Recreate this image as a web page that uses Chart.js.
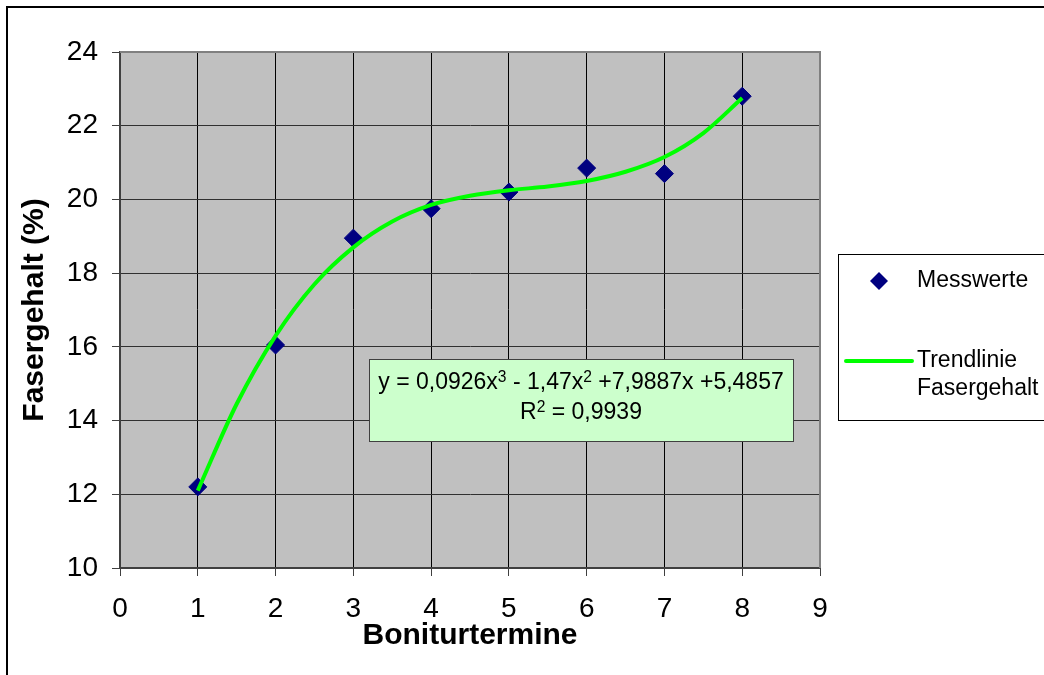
<!DOCTYPE html>
<html>
<head>
<meta charset="utf-8">
<script src="https://cdn.jsdelivr.net/npm/chart.js@4/dist/chart.umd.min.js"></script>
<style>
  html, body { margin: 0; padding: 0; background: #fff; }
  canvas { display: block; }
</style>
</head>
<body>
<canvas id="chart" width="1044" height="675"></canvas>
<script>
const termine = [1, 2, 3, 4, 5, 6, 7, 8];
const fasergehalt = [12.2, 16.05, 18.95, 19.75, 20.2, 20.85, 20.7, 22.8];

// Trendlinie, every half step
const trendX = [1, 1.5, 2, 2.5, 3, 3.5, 4, 4.5, 5, 5.5, 6, 6.5, 7, 7.5, 8];
const trendY = [12.1, 14.45, 16.3, 17.7, 18.7, 19.4, 19.85, 20.1, 20.25, 20.35, 20.5, 20.75, 21.15, 21.8, 22.75];

const seriesLabels = ["Messwerte", "Trendlinie\nFasergehalt"];
const eqParts = [["y = 0,0926x", false], ["3", true], [" - 1,47x", false], ["2", true], [" +7,9887x +5,4857", false]];
const r2Parts = [["R", false], ["2", true], [" = 0,9939", false]];

const FONT = "Arial, 'Liberation Sans', sans-serif";

function drawParts(ctx, parts, cx, cy, size) {
  let total = 0;
  parts.forEach(([t, sup]) => {
    ctx.font = (sup ? size * 0.68 : size) + "px " + FONT;
    total += ctx.measureText(t).width;
  });
  let x = cx - total / 2;
  ctx.textAlign = "left";
  ctx.textBaseline = "middle";
  parts.forEach(([t, sup]) => {
    ctx.font = (sup ? size * 0.68 : size) + "px " + FONT;
    ctx.fillText(t, x, sup ? cy - size * 0.25 : cy);
    x += ctx.measureText(t).width;
  });
}

const decor = {
  id: "decor",
  beforeDraw(chart) {
    const { ctx, chartArea: a } = chart;
    ctx.save();
    ctx.fillStyle = "#fff";
    ctx.fillRect(0, 0, chart.width, chart.height);
    ctx.fillStyle = "#c0c0c0";
    ctx.fillRect(a.left, a.top, a.right - a.left, a.bottom - a.top);
    ctx.restore();
  },
  afterDatasetsDraw(chart) {
    const { ctx, chartArea: a } = chart;
    ctx.save();
    // top and right edge of plot area
    ctx.strokeStyle = "#808080";
    ctx.lineWidth = 2;
    ctx.beginPath();
    ctx.moveTo(a.left, a.top);
    ctx.lineTo(a.right, a.top);
    ctx.lineTo(a.right, a.bottom);
    ctx.stroke();

    // equation box
    ctx.fillStyle = "#ccffcc";
    ctx.fillRect(369, 359, 424, 82);
    ctx.strokeStyle = "#404040";
    ctx.lineWidth = 1;
    ctx.strokeRect(369.5, 359.5, 424, 82);
    ctx.fillStyle = "#000";
    drawParts(ctx, eqParts, 581, 383, 23);
    drawParts(ctx, r2Parts, 581, 413, 23);

    // legend
    ctx.fillStyle = "#fff";
    ctx.fillRect(838, 254, 220, 166);
    ctx.strokeStyle = "#000";
    ctx.strokeRect(838.5, 254.5, 220, 166);
    ctx.fillStyle = "#000080";
    ctx.beginPath();
    ctx.moveTo(879, 272);
    ctx.lineTo(888, 281);
    ctx.lineTo(879, 290);
    ctx.lineTo(870, 281);
    ctx.closePath();
    ctx.fill();
    ctx.strokeStyle = "#00ff00";
    ctx.lineWidth = 4;
    ctx.lineCap = "round";
    ctx.beginPath();
    ctx.moveTo(846, 361);
    ctx.lineTo(912, 361);
    ctx.stroke();
    ctx.fillStyle = "#000";
    ctx.font = "23px " + FONT;
    ctx.textAlign = "left";
    ctx.textBaseline = "middle";
    ctx.fillText(seriesLabels[0], 917, 281);
    const lines = seriesLabels[1].split("\n");
    ctx.fillText(lines[0], 917, 361);
    ctx.fillText(lines[1], 917, 389);

    // outer frame
    ctx.strokeStyle = "#000";
    ctx.lineWidth = 2;
    ctx.strokeRect(7, 7, 1200, 800);
    ctx.restore();
  }
};

const ctx = document.getElementById("chart").getContext("2d");
new Chart(ctx, {
  type: "scatter",
  data: {
    datasets: [
      {
        label: seriesLabels[1],
        data: trendX.map((x, i) => ({ x: x, y: trendY[i] })),
        showLine: true,
        borderColor: "#00ff00",
        borderWidth: 4,
        pointRadius: 0,
        tension: 0.4,
        cubicInterpolationMode: "monotone",
        order: 0,
      },
      {
        label: seriesLabels[0],
        data: termine.map((x, i) => ({ x: x, y: fasergehalt[i] })),
        pointStyle: "rectRot",
        pointRadius: 9,
        backgroundColor: "#000080",
        borderColor: "#000080",
        order: 1,
      },
    ],
  },
  options: {
    responsive: false,
    animation: false,
    devicePixelRatio: 1,
    layout: { padding: { left: 0, top: 52, right: 224, bottom: 0 } },
    plugins: { legend: { display: false }, tooltip: { enabled: false } },
    scales: {
      x: {
        type: "linear",
        min: 0,
        max: 9,
        ticks: { stepSize: 1, color: "#000", padding: 16, font: { family: FONT, size: 28 } },
        grid: { color: "#000", lineWidth: 1, tickLength: 8, tickColor: "#404040" },
        border: { color: "#404040", width: 2 },
        title: {
          display: true,
          text: "Boniturtermine",
          color: "#000",
          font: { family: FONT, size: 30, weight: "bold" },
          padding: { top: 0, bottom: 21 },
        },
        afterFit(scale) { scale.height = 107; },
      },
      y: {
        min: 10,
        max: 24,
        ticks: { stepSize: 2, color: "#000", padding: 14, font: { family: FONT, size: 28 } },
        grid: { color: "#303030", lineWidth: 1, tickLength: 8, tickColor: "#404040" },
        border: { color: "#404040", width: 2 },
        title: {
          display: true,
          text: "Fasergehalt (%)",
          color: "#000",
          font: { family: FONT, size: 30, weight: "bold" },
          padding: { top: 17, bottom: 0 },
        },
        afterFit(scale) { scale.width = 120; },
      },
    },
  },
  plugins: [decor],
});
</script>
</body>
</html>
